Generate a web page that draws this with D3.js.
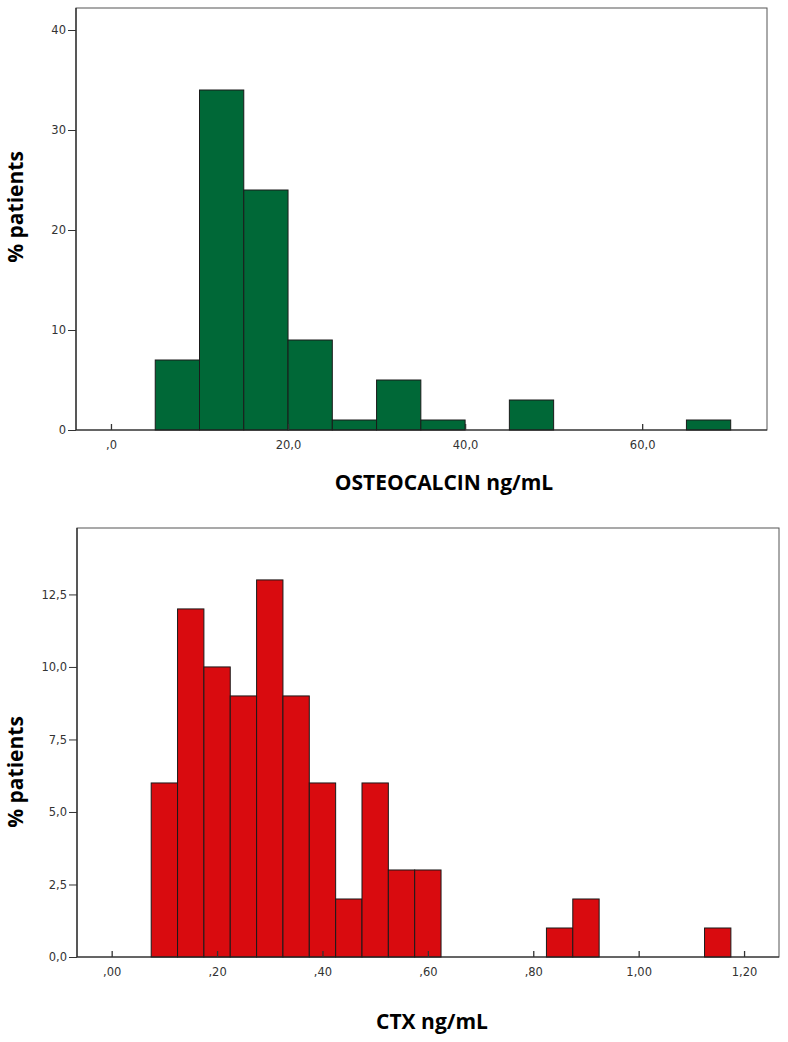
<!DOCTYPE html>
<html><head><meta charset="utf-8">
<script src="https://cdn.jsdelivr.net/npm/d3@7"></script>
<style>body{margin:0;background:#fff}svg{display:block}</style>
</head><body>
<svg id="c" width="788" height="1042"></svg>
<script>
// Top chart: OSTEOCALCIN bins (width 5)
const osteoBinStart = [5, 10, 15, 20, 25, 30, 35, 45, 65];
const osteoBinEnd   = [10, 15, 20, 25, 30, 35, 40, 50, 70];
const osteoPct      = [7, 34, 24, 9, 1, 5, 1, 3, 1];
const osteoXTicks   = [0, 20, 40, 60];
const osteoXLabels  = [",0", "20,0", "40,0", "60,0"];
const osteoYTicks   = [0, 10, 20, 30, 40];
const osteoYLabels  = ["0", "10", "20", "30", "40"];

// Bottom chart: CTX bins (width 0.05)
const ctxBinStart = [0.075, 0.125, 0.175, 0.225, 0.275, 0.325, 0.375, 0.425, 0.475, 0.525, 0.575, 0.825, 0.875, 1.125];
const ctxBinEnd   = [0.125, 0.175, 0.225, 0.275, 0.325, 0.375, 0.425, 0.475, 0.525, 0.575, 0.625, 0.875, 0.925, 1.175];
const ctxPct      = [6, 12, 10, 9, 13, 9, 6, 2, 6, 3, 3, 1, 2, 1];
const ctxXTicks   = [0, 0.2, 0.4, 0.6, 0.8, 1.0, 1.2];
const ctxXLabels  = [",00", ",20", ",40", ",60", ",80", "1,00", "1,20"];
const ctxYTicks   = [0, 2.5, 5, 7.5, 10, 12.5];
const ctxYLabels  = ["0,0", "2,5", "5,0", "7,5", "10,0", "12,5"];

const svg = d3.select("#c");

function hist(cfg) {
  const g = svg.append("g");
  const x = d3.scaleLinear().domain(cfg.xDomain).range([cfg.left, cfg.right]);
  const y = d3.scaleLinear().domain(cfg.yDomain).range([cfg.bottom, cfg.top]);

  g.append("rect").attr("x", cfg.left).attr("y", cfg.top)
    .attr("width", cfg.right - cfg.left).attr("height", cfg.bottom - cfg.top)
    .attr("fill", "#fff").attr("stroke", "#555").attr("stroke-width", 1);

  g.selectAll("rect.bar").data(cfg.start).join("rect").attr("class", "bar")
    .attr("x", (d) => x(d))
    .attr("width", (d, i) => x(cfg.end[i]) - x(d))
    .attr("y", (d, i) => y(cfg.vals[i]))
    .attr("height", (d, i) => y(0) - y(cfg.vals[i]))
    .attr("fill", cfg.color).attr("stroke", "#1a1a1a").attr("stroke-width", 1);

  g.append("line").attr("x1", cfg.left).attr("x2", cfg.left).attr("y1", cfg.top).attr("y2", cfg.bottom)
    .attr("stroke", "#222").attr("stroke-width", 1.2);
  g.append("line").attr("x1", cfg.left).attr("x2", cfg.right).attr("y1", cfg.bottom).attr("y2", cfg.bottom)
    .attr("stroke", "#222").attr("stroke-width", 1.2);

  const yAxis = d3.axisLeft(y).tickValues(cfg.yTicks).tickSize(8).tickPadding(2)
    .tickFormat((d, i) => cfg.yLabels[i]);
  const ya = g.append("g").attr("transform", `translate(${cfg.left},0)`).call(yAxis);
  ya.select(".domain").remove();
  ya.selectAll("line").attr("stroke", "#333");
  ya.selectAll("text").attr("font-family", "DejaVu Sans, sans-serif").attr("font-size", 11.5).attr("fill", "#333");

  const xAxis = d3.axisBottom(x).tickValues(cfg.xTicks).tickSize(-6).tickPadding(11)
    .tickFormat((d, i) => cfg.xLabels[i]);
  const xa = g.append("g").attr("transform", `translate(0,${cfg.bottom})`).call(xAxis);
  xa.select(".domain").remove();
  xa.selectAll("line").attr("stroke", "#333").attr("stroke-width", 1.3);
  xa.selectAll("text").attr("font-family", "DejaVu Sans, sans-serif").attr("font-size", 11.5).attr("fill", "#333");

  g.append("text").attr("transform", `translate(${cfg.yTitleX},${cfg.yTitleY}) rotate(-90)`)
    .attr("text-anchor", "middle").attr("font-family", "Open Sans, sans-serif")
    .attr("font-weight", "bold").attr("font-size", 21).attr("fill", "#000").text("% patients");
  g.append("text").attr("x", cfg.xTitleX).attr("y", cfg.xTitleY)
    .attr("text-anchor", "middle").attr("font-family", "Open Sans, sans-serif")
    .attr("font-weight", "bold").attr("font-size", 21).attr("fill", "#000").text(cfg.xTitle);
}

hist({
  left: 76, right: 767, top: 8, bottom: 430,
  xDomain: [-3.95, 74.1], yDomain: [0, 42.2],
  start: osteoBinStart, end: osteoBinEnd, vals: osteoPct, color: "#006837",
  xTicks: osteoXTicks, xLabels: osteoXLabels, yTicks: osteoYTicks, yLabels: osteoYLabels,
  yTitleX: 23, yTitleY: 207, xTitleX: 444, xTitleY: 490, xTitle: "OSTEOCALCIN ng/mL"
});

hist({
  left: 77, right: 779, top: 528, bottom: 957,
  xDomain: [-0.0658, 1.2663], yDomain: [0, 14.79],
  start: ctxBinStart, end: ctxBinEnd, vals: ctxPct, color: "#d90b0f",
  xTicks: ctxXTicks, xLabels: ctxXLabels, yTicks: ctxYTicks, yLabels: ctxYLabels,
  yTitleX: 23, yTitleY: 772, xTitleX: 432, xTitleY: 1029, xTitle: "CTX ng/mL"
});
</script>
</body></html>
